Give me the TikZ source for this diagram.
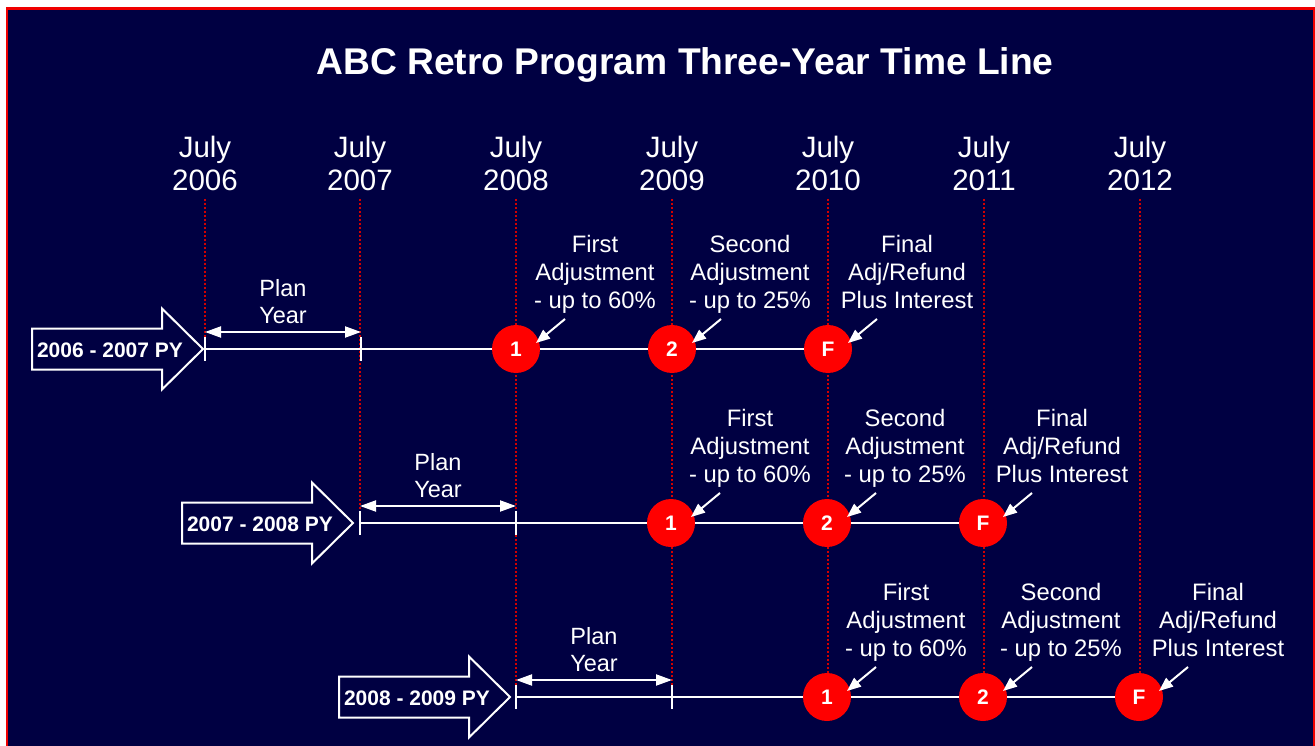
\documentclass[tikz,border=0pt]{standalone}
\usepackage{fontspec}
\setmainfont{Liberation Sans}
\usetikzlibrary{arrows.meta,calc}
\definecolor{navy}{RGB}{0,0,66}
\definecolor{dotred}{RGB}{210,0,0}
\definecolor{ballred}{RGB}{255,0,0}
\definecolor{framered}{RGB}{240,0,0}
\begin{document}
\begin{tikzpicture}[x=1pt,y=-1pt,
  yearlab/.style={text=white, font=\fontsize{29.5}{33}\selectfont, align=center, inner sep=0pt},
  note/.style={text=white, font=\fontsize{23.8}{28}\selectfont, align=center, inner sep=0pt},
  planlab/.style={text=white, font=\fontsize{23.5}{27}\selectfont, align=center, inner sep=0pt},
  pylab/.style={text=white, font=\bfseries\fontsize{21}{25}\selectfont, inner sep=0pt},
  ball/.style={circle, fill=ballred, minimum size=48pt, inner sep=0pt, text=white, font=\bfseries\fontsize{21}{24}\selectfont},
  guide/.style={dotred, line width=1.6pt, dash pattern=on 2pt off 2pt},
  tl/.style={white, line width=2pt},
  span/.style={white, line width=2pt, {Triangle[length=16pt,width=11pt]}-{Triangle[length=16pt,width=11pt]}},
  ptr/.style={white, line width=2pt, -{Triangle[length=14pt,width=11pt]}},
  blockarrow/.style={draw=white, line width=2pt, fill=navy, line join=miter}
]
\useasboundingbox (0,0) rectangle (1315,746);
\clip (0,0) rectangle (1315,746);
\fill[white] (0,0) rectangle (1315,746);
\fill[navy] (7,8.5) rectangle (1313.8,800);
\draw[framered, line width=2.6pt] (7,8.5) rectangle (1313.8,800);

% title
\node[text=white, font=\bfseries\fontsize{37.2}{44}\selectfont, inner sep=0pt] (title) at (685,65) {ABC Retro Program Three-Year Time Line};

% year labels and guide lines
\foreach \i/\gx/\gy/\yr in {0/205/349/2006, 1/360/523/2007, 2/516/697/2008, 3/672/697/2009, 4/828/697/2010, 5/984/697/2011, 6/1140/697/2012}{
  \node[yearlab] (y\i) at (\gx,163) {July\\\yr};
  \coordinate (gt\i) at (\gx,199);
  \coordinate (gb\i) at (\gx,\gy);
  \draw[guide] (gt\i) -- (gb\i);
}

% rows
\foreach \r/\y/\s/\t/\lab in {1/349/205/203/{2006 - 2007 PY}, 2/523/360/353/{2007 - 2008 PY}, 3/697/516/510/{2008 - 2009 PY}}{
  \coordinate (s\r) at (\s,\y);
  \coordinate (e\r) at (\s+156,\y);
  \node[ball] (a\r) at (\s+311,\y) {1};
  \node[ball] (b\r) at (\s+467,\y) {2};
  \node[ball] (f\r) at (\s+623,\y) {F};
  \draw[tl] (s\r) -- (a\r) -- (b\r) -- (f\r);
  \draw[tl] ($(s\r)+(0,-12)$) -- ($(s\r)+(0,12)$);
  \draw[tl] ($(e\r)+(0,-12)$) -- ($(e\r)+(0,12)$);
  \draw[span] ($(s\r)+(0,-17)$) -- ($(e\r)+(0,-17)$);
  \node[planlab] (p\r) at ($(s\r)!0.5!(e\r)+(0,-47)$) {Plan\\Year};
  % block arrow
  \draw[blockarrow] (\t-171,\y-20.5) -- (\t-41,\y-20.5) -- (\t-41,\y-40.5) -- (\t,\y) -- (\t-41,\y+40.5) -- (\t-41,\y+20.5) -- (\t-171,\y+20.5) -- cycle;
  \node[pylab] (py\r) at (\t-93,\y+1.5) {\lab};
  % pointers and notes
  \draw[ptr] ($(a\r)+(49,-30)$) -- ($(a\r)+(20,-6)$);
  \draw[ptr] ($(b\r)+(49,-30)$) -- ($(b\r)+(20,-6)$);
  \draw[ptr] ($(f\r)+(49,-30)$) -- ($(f\r)+(20,-6)$);
  \node[note] (na\r) at ($(a\r)+(79,-75)$) {First\\Adjustment\\- up to 60\%};
  \node[note] (nb\r) at ($(b\r)+(78,-75)$) {Second\\Adjustment\\- up to 25\%};
  \node[note] (nf\r) at ($(f\r)+(79,-77)$) {Final\\Adj/Refund\\Plus Interest};
}
\end{tikzpicture}
\end{document}
